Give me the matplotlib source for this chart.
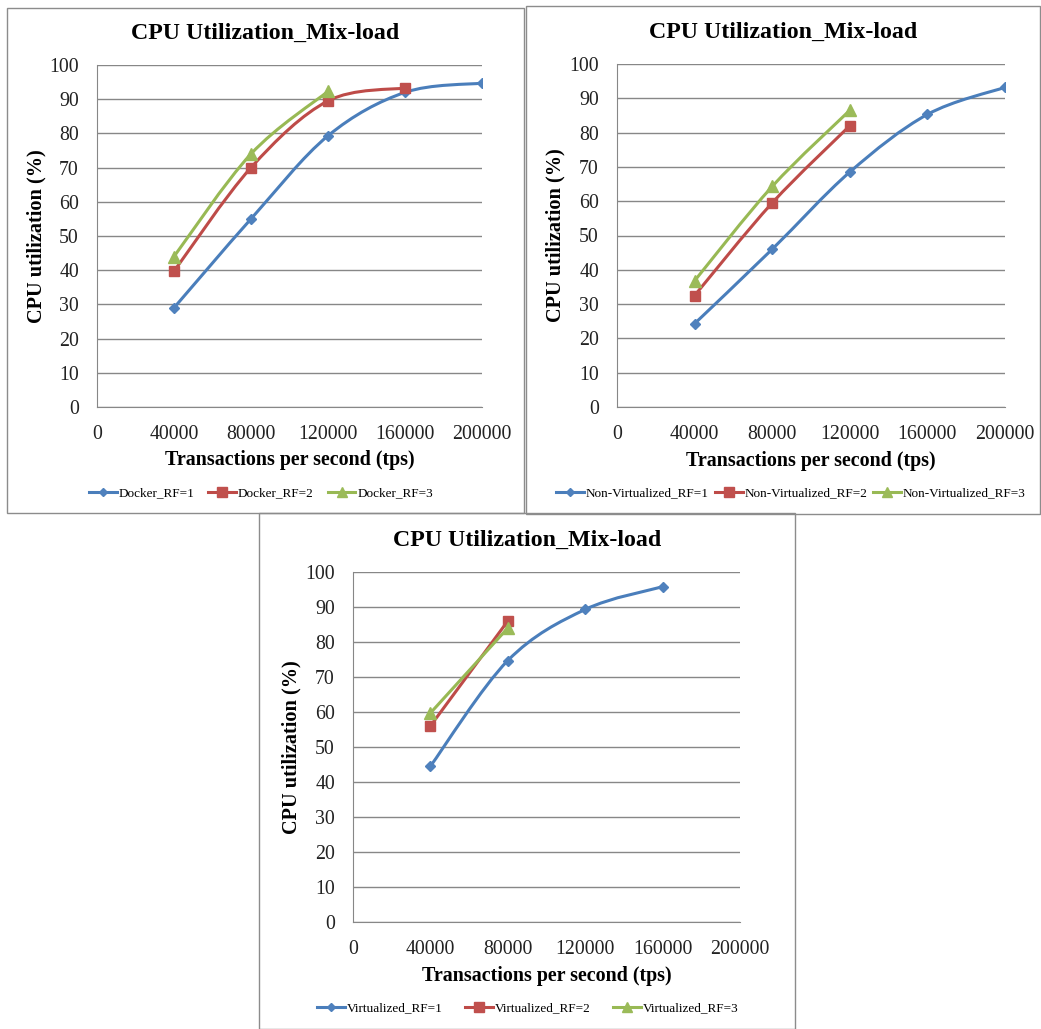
import numpy as np
import matplotlib
matplotlib.use("Agg")
import matplotlib.pyplot as plt
from matplotlib.path import Path
from matplotlib.patches import PathPatch, Rectangle
from matplotlib.lines import Line2D

plt.rcParams['font.family'] = ['Liberation Serif', 'DejaVu Serif']

# data
tps = [40000, 80000, 120000, 160000, 200000]

docker_rf1 = [29.0, 55.0, 79.3, 92.0, 94.7]
docker_rf2 = [39.7, 70.0, 89.5, 93.3]
docker_rf3 = [44.0, 74.0, 92.3]

nonvirt_rf1 = [24.3, 46.0, 68.5, 85.3, 93.2]
nonvirt_rf2 = [32.5, 59.5, 82.0]
nonvirt_rf3 = [36.8, 64.3, 86.5]

virt_rf1 = [44.5, 74.7, 89.3, 95.8]
virt_rf2 = [56.0, 86.0]
virt_rf3 = [59.7, 84.0]

title = "CPU Utilization_Mix-load"
xlab = "Transactions per second (tps)"
ylab = "CPU utilization (%)"
xticks = [0, 40000, 80000, 120000, 160000, 200000]
yticks = list(range(0, 101, 10))

W, H = 1041, 1029
fig = plt.figure(figsize=(W / 100, H / 100), dpi=100)

line_cols = ['#4A7EBB', '#BE4B48', '#98B954']
mark_cols = ['#4F81BD', '#C0504D', '#9BBB59']
markers = ['D', 's', '^']
msizes = [5.5, 7.5, 8]


def smooth(xs, ys):
    # excel-like smoothed line: catmull-rom as cubic bezier
    p = np.column_stack([xs, ys]).astype(float)
    n = len(p)
    verts = [p[0]]
    codes = [Path.MOVETO]
    for i in range(n - 1):
        p0 = p[i - 1] if i > 0 else p[i]
        p3 = p[i + 2] if i + 2 < n else p[i + 1]
        c1 = p[i] + (p[i + 1] - p0) / 6
        c2 = p[i + 1] - (p3 - p[i]) / 6
        verts += [c1, c2, p[i + 1]]
        codes += [Path.CURVE4] * 3
    return Path(verts, codes)


def frac(x0, y0, x1, y1):
    return [x0 / W, 1 - y1 / H, (x1 - x0) / W, (y1 - y0) / H]


def panel(box, area, series, names, leg_x, colsp):
    bx0, by0, bx1, by1 = box
    fig.add_artist(Rectangle((bx0 / W, 1 - by1 / H), (bx1 - bx0) / W, (by1 - by0) / H,
                             transform=fig.transFigure, fill=False,
                             edgecolor='#8C8C8C', lw=1))
    ax = fig.add_axes(frac(*area))
    ax.set_xlim(0, 200000)
    ax.set_ylim(0, 100)
    ax.set_xticks(xticks)
    ax.set_yticks(yticks)
    ax.tick_params(length=0, labelsize=14.3, colors='#222222')
    ax.tick_params(axis='x', pad=13)
    ax.tick_params(axis='y', pad=13)
    ax.yaxis.grid(True, color='#878787', lw=1)
    ax.set_axisbelow(True)
    for s in ['top', 'right']:
        ax.spines[s].set_visible(False)
    for s in ['left', 'bottom']:
        ax.spines[s].set_color('#878787')
    handles = []
    for k, ys in enumerate(series):
        xs = tps[:len(ys)]
        ax.add_patch(PathPatch(smooth(xs, ys), fill=False, edgecolor=line_cols[k],
                               lw=2.2, capstyle='round', joinstyle='round'))
        ax.plot(xs, ys, ls='none', marker=markers[k], ms=msizes[k],
                color=mark_cols[k], mec=mark_cols[k], zorder=3)
        handles.append(Line2D([], [], color=line_cols[k], lw=2.2, marker=markers[k],
                              ms=msizes[k] - 1, mfc=mark_cols[k], mec=mark_cols[k]))
    ax.set_xlabel(xlab, fontsize=14.4, fontweight='bold')
    ax.set_ylabel(ylab, fontsize=14.6, fontweight='bold')
    ax.xaxis.set_label_coords(0.5, -0.127)
    ax.yaxis.set_label_coords(-0.132, 0.5)
    cx = (bx0 + bx1) / 2
    fig.text(cx / W, 1 - (area[1] - 32) / H, title, ha='center', va='center',
             fontsize=17.2, fontweight='bold')
    fig.legend(handles, names, loc='center', ncol=3, frameon=False,
               bbox_to_anchor=(leg_x / W, 1 - (area[3] + 86) / H),
               fontsize=9.5, handlelength=2.1, handletextpad=0.15,
               columnspacing=colsp)
    return ax


panel((7, 8, 524, 513), (97, 65, 482, 407),
      [docker_rf1, docker_rf2, docker_rf3],
      ['Docker_RF=1', 'Docker_RF=2', 'Docker_RF=3'], 261, 1.05)
panel((526, 6, 1040, 514), (617, 64, 1005, 407),
      [nonvirt_rf1, nonvirt_rf2, nonvirt_rf3],
      ['Non-Virtualized_RF=1', 'Non-Virtualized_RF=2', 'Non-Virtualized_RF=3'], 791, 0.45)
panel((259, 513, 795, 1029), (353, 572, 740, 922),
      [virt_rf1, virt_rf2, virt_rf3],
      ['Virtualized_RF=1', 'Virtualized_RF=2', 'Virtualized_RF=3'], 528, 1.7)

fig.savefig("out.png", dpi=100)
